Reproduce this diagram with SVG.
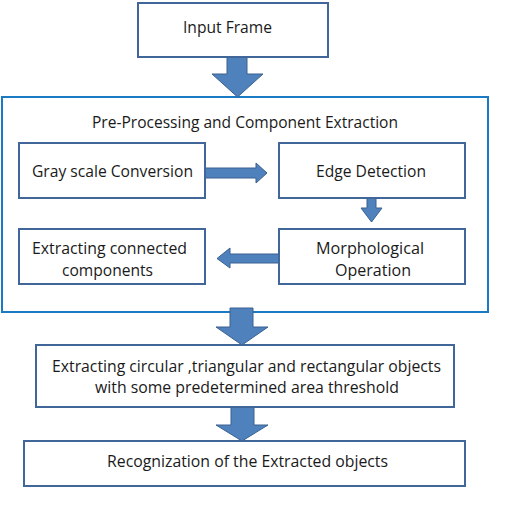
<svg xmlns="http://www.w3.org/2000/svg" width="519" height="529" viewBox="0 0 519 529">
<style>
.box{fill:#ffffff;stroke:#41669a;stroke-width:2}
.frame{fill:none;stroke:#1a7bc4;stroke-width:2}
.arr{fill:#4f81bd;stroke:#3a6190;stroke-width:1}
text{font-family:"Open Sans","Liberation Sans",Arial,sans-serif;font-size:16px;fill:#1a1a1a;text-anchor:middle}
</style>
<rect width="519" height="529" fill="#ffffff"/>
<g id="frame">
<rect class="frame" x="2" y="97" width="486" height="215"/>
<text x="245" y="128" textLength="306" lengthAdjust="spacingAndGlyphs">Pre-Processing and Component Extraction</text>
</g>
<g id="connectors">
<path class="arr" d="M227,57 H247 V74 H263 L237.5,97 L212,74 H227 Z"/>
<path class="arr" d="M202,168 H256 V163 L267,173 L256,183 V178 H202 Z"/>
<path class="arr" d="M367,198 H376 V208 H382 L371.5,222 L361,208 H367 Z"/>
<path class="arr" d="M283,254 H230 V248 L217,258.5 L230,268 V263 H283 Z"/>
<path class="arr" d="M230,308 H253 V327 H268 L242,345 L216,327 H230 Z"/>
<path class="arr" d="M231,407 H254 V425 H268 L242,441 L216,425 H231 Z"/>
</g>
<g id="input-frame">
<rect class="box" x="138" y="3" width="190" height="54"/>
<text x="227.5" y="33" textLength="89" lengthAdjust="spacingAndGlyphs">Input Frame</text>
</g>
<g id="gray-scale">
<rect class="box" x="19" y="143" width="186" height="55"/>
<text x="112.5" y="177" textLength="161" lengthAdjust="spacingAndGlyphs">Gray scale Conversion</text>
</g>
<g id="edge-detection">
<rect class="box" x="279" y="143" width="186" height="55"/>
<text x="371" y="177" textLength="110" lengthAdjust="spacingAndGlyphs">Edge Detection</text>
</g>
<g id="extracting-components">
<rect class="box" x="19" y="229" width="186" height="55"/>
<text x="109.5" y="254" textLength="155" lengthAdjust="spacingAndGlyphs">Extracting connected</text>
<text x="107.5" y="276" textLength="91" lengthAdjust="spacingAndGlyphs">components</text>
</g>
<g id="morphological">
<rect class="box" x="279" y="229" width="186" height="55"/>
<text x="370" y="254" textLength="108" lengthAdjust="spacingAndGlyphs">Morphological</text>
<text x="373" y="276" textLength="76" lengthAdjust="spacingAndGlyphs">Operation</text>
</g>
<g id="extracting-shapes">
<rect class="box" x="36" y="345" width="418" height="62"/>
<text x="246.5" y="372" textLength="389" lengthAdjust="spacingAndGlyphs">Extracting circular ,triangular and rectangular objects</text>
<text x="247" y="393" textLength="304" lengthAdjust="spacingAndGlyphs">with some predetermined area threshold</text>
</g>
<g id="recognition">
<rect class="box" x="24" y="441" width="441" height="45"/>
<text x="247.5" y="467" textLength="281" lengthAdjust="spacingAndGlyphs">Recognization of the Extracted objects</text>
</g>
</svg>
